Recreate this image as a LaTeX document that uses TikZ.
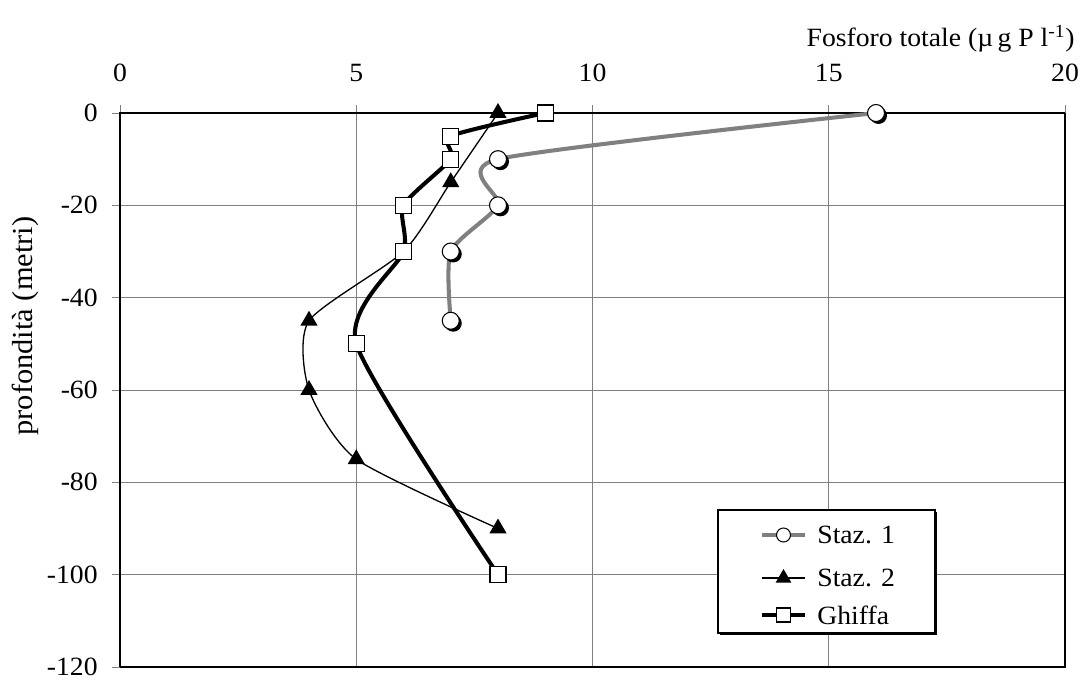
\documentclass[tikz,border=0pt]{standalone}
\usepackage{fontspec}
\setmainfont[FakeStretch=1.05]{Liberation Serif}
\usetikzlibrary{shapes.geometric}

\begin{document}
\begin{tikzpicture}[x=0.945cm, y=0.09233cm,
    every node/.style={font=\fontsize{15}{17}\selectfont},
    gridline/.style={draw=gray, line width=0.55pt},
    staza/.style={draw=gray, line width=2.3pt},
    stazb/.style={draw=black, line width=0.75pt},
    ghiffa/.style={draw=black, line width=2.3pt},
    circmark/.style={circle, draw=black, fill=white, line width=0.6pt, minimum size=0.34cm, inner sep=0pt},
    trimark/.style={regular polygon, regular polygon sides=3, fill=black, minimum size=0.4cm, inner sep=0pt},
    sqmark/.style={rectangle, draw=black, fill=white, line width=0.6pt, minimum size=0.32cm, inner sep=0pt}]

    \useasboundingbox (-2.4cm,-11.34cm) rectangle (19.34cm,2.26cm);

    % Griglia
    \foreach \x in {0,5,10,15,20}
        \draw[gridline] (\x,-120) -- ([yshift=0.16cm]\x,0);
    \foreach \y in {0,-20,-40,-60,-80,-100,-120}
        \draw[gridline] ([xshift=-0.16cm]0,\y) -- (20,\y);

    % Cornice
    \draw[black, line width=0.8pt] (0,-120) -- (0,0) -- (20,0);
    \draw[black, line width=1.2pt] (0,-120) -- (20,-120) -- (20,0);

    % Etichette asse x
    \foreach \x in {0,5,10,15,20}
        \node (xl\x) at ([yshift=0.8cm]\x,0) {\x};

    % Etichette asse y
    \foreach \y [count=\i] in {0,-20,-40,-60,-80,-100,-120}
        \node[anchor=east, inner sep=0pt] (yl\i) at ([xshift=-0.44cm]0,\y) {\y};

    % Titoli assi
    \node[anchor=base east, inner sep=0pt] (xtitle) at (19.1cm,1.32cm) {Fosforo totale (µ\,g P l\textsuperscript{-1})};
    \node[rotate=90, font=\fontsize{16.5}{18}\selectfont] (ytitle) at (-1.9cm,-4.26cm) {profondità (metri)};

    % Staz. 1
    \draw[staza] plot[smooth, tension=0.4] coordinates {(16,0) (8,-10) (8,-20) (7,-30) (7,-45)};
    \foreach \x/\y [count=\i] in {16/0, 8/-10, 8/-20, 7/-30, 7/-45} {
        \fill[black] ([shift={(0.05cm,-0.05cm)}]\x,\y) circle (0.17cm);
        \node[circmark] (sa\i) at (\x,\y) {};
    }

    % Staz. 2
    \draw[stazb] plot[smooth, tension=0.4] coordinates {(8,0) (7,-15) (6,-30) (4,-45) (4,-60) (5,-75) (8,-90)};
    \foreach \x/\y [count=\i] in {8/0, 7/-15, 6/-30, 4/-45, 4/-60, 5/-75, 8/-90}
        \node[trimark] (sb\i) at (\x,\y) {};

    % Ghiffa
    \draw[ghiffa] plot[smooth, tension=0.4] coordinates {(9,0) (7,-5) (7,-10) (6,-20) (6,-30) (5,-50) (8,-100)};
    \foreach \x/\y [count=\i] in {9/0, 7/-5, 7/-10, 6/-20, 6/-30, 5/-50, 8/-100}
        \node[sqmark] (gh\i) at (\x,\y) {};

    % Legenda
    \fill[black] (12.0cm,-10.44cm) rectangle (16.34cm,-7.98cm);
    \draw[fill=white, line width=0.6pt] (11.96cm,-10.4cm) rectangle (16.3cm,-7.94cm);

    \draw[staza] (12.84cm,-8.44cm) -- (13.7cm,-8.44cm);
    \node[circmark, minimum size=0.28cm] (lg1) at (13.27cm,-8.44cm) {};
    \node[anchor=west, inner sep=0pt] (lt1) at (13.94cm,-8.44cm) {Staz. 1};

    \draw[stazb] (12.84cm,-9.3cm) -- (13.7cm,-9.3cm);
    \node[trimark, minimum size=0.36cm] (lg2) at (13.27cm,-9.3cm) {};
    \node[anchor=west, inner sep=0pt] (lt2) at (13.94cm,-9.3cm) {Staz. 2};

    \draw[ghiffa] (12.84cm,-10.04cm) -- (13.7cm,-10.04cm);
    \node[sqmark, minimum size=0.28cm] (lg3) at (13.27cm,-10.04cm) {};
    \node[anchor=west, inner sep=0pt] (lt3) at (13.94cm,-10.04cm) {Ghiffa};

\end{tikzpicture}
\end{document}
